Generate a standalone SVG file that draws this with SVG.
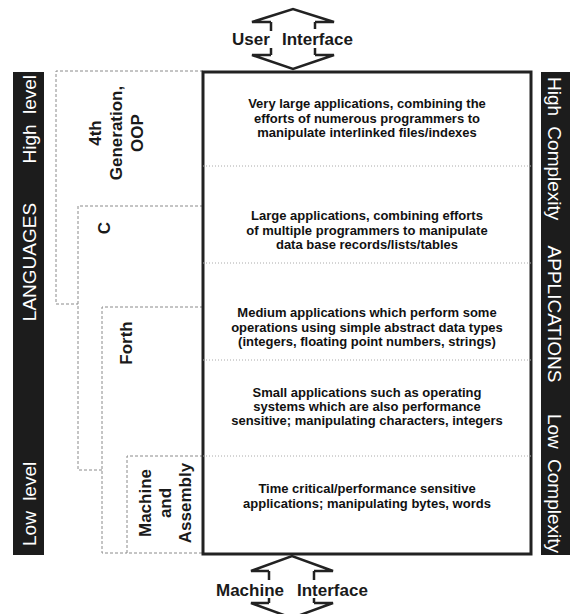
<svg xmlns="http://www.w3.org/2000/svg" width="575" height="614" viewBox="0 0 575 614">
<style>
  .bar { fill: #1c1c1c; }
  .bartxt { font-family: "Liberation Sans", Arial, sans-serif; font-size: 19px; fill: #ffffff; word-spacing: 5px; }
  .row { font-family: "Liberation Sans", Arial, sans-serif; font-size: 13px; font-weight: bold; fill: #111; text-anchor: middle; }
  .lang { font-family: "Liberation Sans", Arial, sans-serif; font-size: 17px; font-weight: bold; fill: #1a1a1a; text-anchor: middle; }
  .iface { font-family: "Liberation Sans", Arial, sans-serif; font-size: 17px; font-weight: bold; fill: #1a1a1a; }
  .dash { fill: none; stroke: #8a8a8a; stroke-width: 1; stroke-dasharray: 3 2; }
  .div { fill: none; stroke: #aaa; stroke-width: 1; stroke-dasharray: 1 2; }
  .arrow { fill: none; stroke: #222; stroke-width: 2.5; stroke-linejoin: miter; }
</style>
<rect width="575" height="614" fill="#ffffff"/>

<g id="languages-bar">
  <rect class="bar" x="13" y="72" width="31" height="483"/>
  <text class="bartxt" text-anchor="end" transform="translate(36,75) rotate(-90)">High level</text>
  <text class="bartxt" text-anchor="middle" transform="translate(36,262) rotate(-90)">LANGUAGES</text>
  <text class="bartxt" text-anchor="start" transform="translate(36,546) rotate(-90)">Low level</text>
</g>

<g id="applications-bar">
  <rect class="bar" x="541" y="72" width="29" height="483"/>
  <text class="bartxt" text-anchor="start" transform="translate(548,77) rotate(90)">High Complexity</text>
  <text class="bartxt" text-anchor="middle" transform="translate(548,314) rotate(90)">APPLICATIONS</text>
  <text class="bartxt" text-anchor="end" transform="translate(548,553) rotate(90)">Low Complexity</text>
</g>

<g id="lang-4gl">
  <path class="dash" d="M203,71 H56 V304 H78"/>
  <text class="lang" transform="translate(101,133) rotate(-90)"><tspan x="0" y="0">4th</tspan><tspan x="0" dy="21">Generation,</tspan><tspan x="0" dy="21">OOP</tspan></text>
</g>
<g id="lang-c">
  <path class="dash" d="M203,206 H78 V470 H102"/>
  <text class="lang" transform="translate(110,228) rotate(-90)">C</text>
</g>
<g id="lang-forth">
  <path class="dash" d="M203,307 H102 V553 H127"/>
  <text class="lang" transform="translate(132,343) rotate(-90)">Forth</text>
</g>
<g id="lang-asm">
  <path class="dash" d="M203,456 H127 V553 H203"/>
  <text class="lang" transform="translate(151,503) rotate(-90)"><tspan x="0" y="0">Machine</tspan><tspan x="0" dy="20">and</tspan><tspan x="0" dy="20">Assembly</tspan></text>
</g>

<g id="applications-box">
  <rect x="203" y="72" width="328" height="482" fill="#fff" stroke="#222" stroke-width="3"/>
  <path class="div" d="M203,166 H531 M203,263 H531 M203,360 H531 M203,456 H531"/>
  <g id="app-very-large">
    <text class="row"><tspan x="367" y="108">Very large applications, combining the</tspan><tspan x="367" y="122.5">efforts of numerous programmers to</tspan><tspan x="367" y="137">manipulate interlinked files/indexes</tspan></text>
  </g>
  <g id="app-large">
    <text class="row"><tspan x="367" y="220">Large applications, combining efforts</tspan><tspan x="367" y="234.5">of multiple programmers to manipulate</tspan><tspan x="367" y="249">data base records/lists/tables</tspan></text>
  </g>
  <g id="app-medium">
    <text class="row"><tspan x="367" y="317">Medium applications which perform some</tspan><tspan x="367" y="331.5">operations using simple abstract data types</tspan><tspan x="367" y="346">(integers, floating point numbers, strings)</tspan></text>
  </g>
  <g id="app-small">
    <text class="row"><tspan x="367" y="397">Small applications such as operating</tspan><tspan x="367" y="411">systems which are also performance</tspan><tspan x="367" y="425">sensitive; manipulating characters, integers</tspan></text>
  </g>
  <g id="app-time-critical">
    <text class="row"><tspan x="367" y="493">Time critical/performance sensitive</tspan><tspan x="367" y="507.5">applications; manipulating bytes, words</tspan></text>
  </g>
</g>

<g id="connectors">
  <g id="user-interface">
    <path class="arrow" d="M271,22 H252 L293,9 L334,22 H315 M271,55 H252 L293,69 L334,55 H315 M271,22 V31 M271,48 V55 M315,22 V29 M315,48 V55"/>
    <text class="iface"><tspan x="232" y="45">User</tspan><tspan x="282" y="45">Interface</tspan></text>
  </g>
  <g id="machine-interface">
    <path class="arrow" d="M269,571 H251 L292,556 L333,571 H314 M269,603 H251 L292,618 L333,603 H314 M269,571 V580 M269,598 V603 M314,571 V580 M314,598 V603"/>
    <text class="iface"><tspan x="216" y="596">Machine</tspan><tspan x="297" y="596">Interface</tspan></text>
  </g>
</g>
</svg>
